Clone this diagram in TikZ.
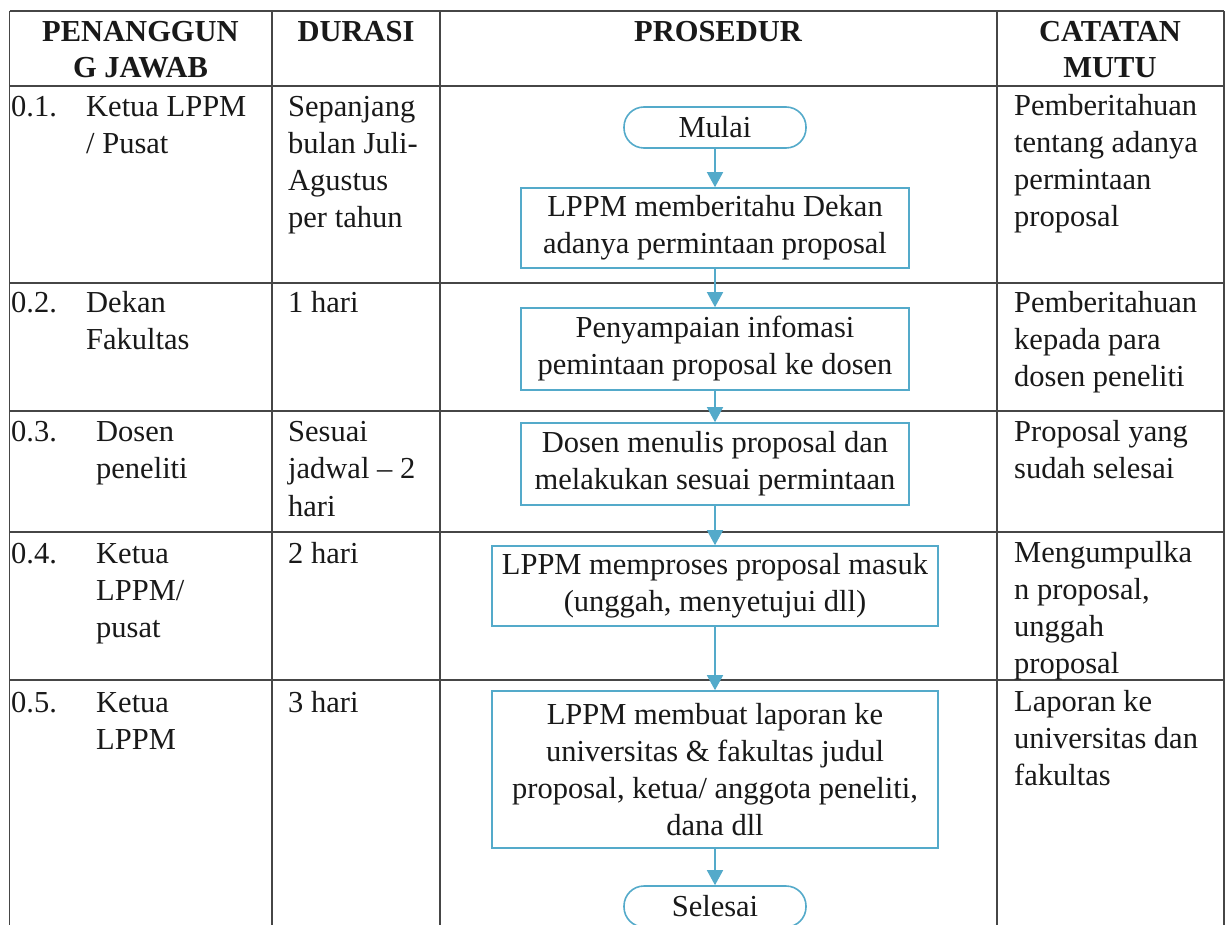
\documentclass[tikz,border=0pt]{standalone}
\usepackage{fontspec}
\setmainfont{Liberation Serif}
\usetikzlibrary{arrows.meta}
\definecolor{flow}{RGB}{84,170,202}
\definecolor{grid}{RGB}{70,70,70}
\definecolor{ink}{RGB}{25,25,25}
\newcommand\cellpar[1]{\parbox[t]{200pt}{\raggedright #1}}
\newcommand\hdrpar[1]{\parbox[t]{250pt}{\centering #1}}
\tikzset{
 txt/.style={anchor=base west, inner sep=0pt, text=ink, font=\fontsize{30.5}{37}\selectfont},
 hdr/.style={anchor=base, inner sep=0pt, text=ink, font=\fontsize{30.5}{36}\selectfont\bfseries},
 proc/.style={draw=flow, line width=1.6pt, fill=white, inner sep=0pt, align=center, text=ink, font=\fontsize{30.5}{37}\selectfont},
 term/.style={proc, rounded corners=20pt, minimum width=182pt, minimum height=41pt},
 flowarrow/.style={draw=flow, line width=1.5pt, -{Triangle[width=16pt,length=15pt]}},
 gridline/.style={draw=grid, line width=1.4pt}
}
\begin{document}
\begin{tikzpicture}[x=1pt,y=-1pt]
\clip (0,0) rectangle (1227,925);
\fill[white] (0,0) rectangle (1227,925);
% table grid
\foreach \yy in {11,86,283,411,532,680} \draw[gridline] (9.5,\yy) -- (1224,\yy);
\foreach \xx in {9.5,272,440,997,1224} \draw[gridline] (\xx,11) -- (\xx,930);
% headers
\node[hdr] (h1) at (140.5,42) {\hdrpar{PENANGGUN\\G JAWAB}};
\node[hdr] (h2) at (356,42) {\hdrpar{DURASI}};
\node[hdr] (h3) at (718,42) {\hdrpar{PROSEDUR}};
\node[hdr] (h4) at (1110,42) {\hdrpar{CATATAN\\MUTU}};
% row 1
\node[txt] (n1) at (11,117) {0.1.};
\node[txt] (p1) at (86,117) {\cellpar{Ketua LPPM\\/ Pusat}};
\node[txt] (d1) at (288,117) {\cellpar{Sepanjang\\bulan Juli-\\Agustus\\per tahun}};
\node[txt] (c1) at (1014,116) {\cellpar{Pemberitahuan\\tentang adanya\\permintaan\\proposal}};
% row 2
\node[txt] (n2) at (11,313) {0.2.};
\node[txt] (p2) at (86,313) {\cellpar{Dekan\\Fakultas}};
\node[txt] (d2) at (288,313) {\cellpar{1 hari}};
\node[txt] (c2) at (1014,313) {\cellpar{Pemberitahuan\\kepada para\\dosen peneliti}};
% row 3
\node[txt] (n3) at (11,442) {0.3.};
\node[txt] (p3) at (96,442) {\cellpar{Dosen\\peneliti}};
\node[txt] (d3) at (288,442) {\cellpar{Sesuai\\jadwal – 2\\hari}};
\node[txt] (c3) at (1014,442) {\cellpar{Proposal yang\\sudah selesai}};
% row 4
\node[txt] (n4) at (11,563) {0.4.};
\node[txt] (p4) at (96,563) {\cellpar{Ketua\\LPPM/\\pusat}};
\node[txt] (d4) at (288,563) {\cellpar{2 hari}};
\node[txt] (c4) at (1014,562) {\cellpar{Mengumpulka\\n proposal,\\unggah\\proposal}};
% row 5
\node[txt] (n5) at (11,712) {0.5.};
\node[txt] (p5) at (96,712) {\cellpar{Ketua\\LPPM}};
\node[txt] (d5) at (288,712) {\cellpar{3 hari}};
\node[txt] (c5) at (1014,711) {\cellpar{Laporan ke\\universitas dan\\fakultas}};
% flowchart
\node[term] (mulai) at (715,127.5) {Mulai};
\node[proc, minimum width=388pt, minimum height=80pt] (b1) at (715,228) {LPPM memberitahu Dekan\\adanya permintaan proposal};
\node[proc, minimum width=388pt, minimum height=82pt] (b2) at (715,349) {Penyampaian infomasi\\pemintaan proposal ke dosen};
\node[proc, minimum width=388pt, minimum height=82pt] (b3) at (715,464) {Dosen menulis proposal dan\\melakukan sesuai permintaan};
\node[proc, minimum width=446pt, minimum height=80pt] (b4) at (715,586) {LPPM memproses proposal masuk\\(unggah, menyetujui dll)};
\node[proc, minimum width=446pt, minimum height=157pt] (b5) at (715,769.5) {LPPM membuat laporan ke\\universitas \& fakultas judul\\proposal, ketua/ anggota peneliti,\\dana dll};
\node[term] (selesai) at (715,906.5) {Selesai};
\draw[flowarrow] (mulai) -- (b1);
\draw[flowarrow] (b1) -- (b2);
\draw[flowarrow] (b2) -- (b3);
\draw[flowarrow] (b3) -- (b4);
\draw[flowarrow] (b4) -- (b5);
\draw[flowarrow] (b5) -- (selesai);
\end{tikzpicture}
\end{document}
